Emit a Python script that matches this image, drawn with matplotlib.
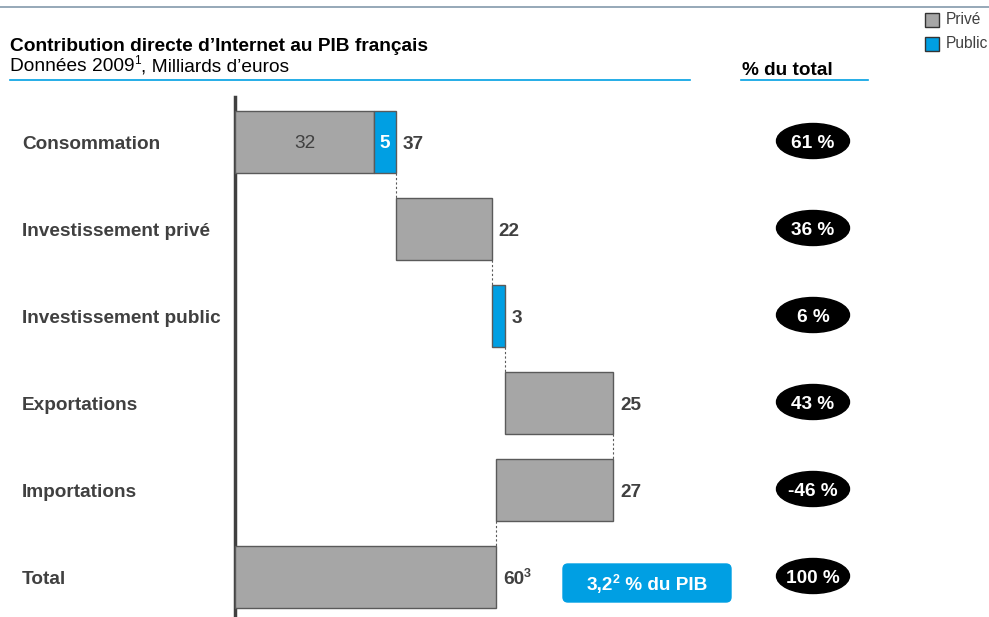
import matplotlib.pyplot as plt
from matplotlib.patches import Ellipse, FancyBboxPatch

plt.rcParams['font.family'] = ['Liberation Sans', 'DejaVu Sans']

# Waterfall data (milliards d'euros, 2009)
categories = ['Consommation', 'Investissement privé', 'Investissement public',
              'Exportations', 'Importations', 'Total']
prive = [32, 22, 0, 25, -27, 60]
public = [5, 0, 3, 0, 0, 0]
value_labels = ['37', '22', '3', '25', '27', '60']
pct_labels = ['61 %', '36 %', '6 %', '43 %', '-46 %', '100 %']

GREY = '#a6a6a6'
EDGE = '#5a5a5a'
BLUE = '#009fe3'
TEXT = '#404040'
FS = 13.7  # main label size (pt)
FS_HEAD = 13.8

W, H = 989, 617
fig = plt.figure(figsize=(W / 100, H / 100), dpi=100)
renderer = fig.canvas.get_renderer()

# pixel-space layer for decorations and text (y grows downwards)
deco = fig.add_axes([0, 0, 1, 1])
deco.set_xlim(0, W)
deco.set_ylim(H, 0)
deco.axis('off')

# bar layer: x in milliards, y in row index
x0_px, px_per_unit = 235, 4.35
row0_px, row_step = 142, 87
ax = fig.add_axes([0, 0, 1, 1], zorder=2)
ax.patch.set_alpha(0)
ax.set_xlim(-x0_px / px_per_unit, (W - x0_px) / px_per_unit)
ax.set_ylim((H - row0_px) / row_step, -row0_px / row_step)
ax.axis('off')


def chain(parts, x, y_base, ha='left', **kw):
    """Write text pieces one after another on a shared baseline.
    parts: (string, fontsize, rise in px)."""
    arts, cx = [], x
    for s, fs, rise in parts:
        t = deco.text(cx, y_base - rise, s, fontsize=fs, ha='left',
                      va='baseline', **kw)
        cx += t.get_window_extent(renderer=renderer).width
        arts.append(t)
    if ha == 'center':
        shift = (cx - x) / 2
        for t in arts:
            px, py = t.get_position()
            t.set_position((px - shift, py))
    return arts


def to_px(x, y):
    dx, dy = ax.transData.transform((x, y))
    return dx, H - dy


bar_h = 62 / row_step
ys = list(range(len(categories)))

# running totals for the waterfall
starts, ends = [], []
level = 0
for i, (p, b) in enumerate(zip(prive, public)):
    if i == len(categories) - 1:
        start, end = 0, p
    else:
        start = level
        end = level + p + b
        level = end
    starts.append(start)
    ends.append(end)

for i, y in enumerate(ys):
    p, b = prive[i], public[i]
    if i == len(categories) - 1:
        ax.barh(y, p, left=0, height=bar_h, color=GREY, edgecolor=EDGE, lw=1)
        continue
    if p > 0:
        ax.barh(y, p, left=starts[i], height=bar_h, color=GREY, edgecolor=EDGE, lw=1)
    elif p < 0:
        ax.barh(y, -p, left=starts[i] + p, height=bar_h, color=GREY, edgecolor=EDGE, lw=1)
    if b > 0:
        ax.barh(y, b, left=starts[i] + max(p, 0), height=bar_h, color=BLUE,
                edgecolor=EDGE, lw=1)

# dashed connectors between consecutive bars
for i in range(len(categories) - 1):
    xc = ends[i]
    ax.plot([xc, xc], [ys[i] + bar_h / 2, ys[i + 1] - bar_h / 2],
            color=EDGE, lw=0.8, ls=(0, (2, 2)))

# segment labels inside the first bar
ax.annotate(str(prive[0]), (prive[0] / 2, 0), xytext=(0, -1),
            textcoords='offset points', ha='center', va='center',
            fontsize=FS, color=TEXT)
ax.annotate(str(public[0]), (prive[0] + public[0] / 2, 0), xytext=(0, -1),
            textcoords='offset points', ha='center', va='center',
            fontsize=FS, color='white', fontweight='bold')

# totals to the right of each bar
for i, y in enumerate(ys):
    right = max(starts[i], ends[i])
    xp, yp = to_px(right, y)
    parts = [(value_labels[i], FS, 0)]
    if i == len(categories) - 1:
        parts.append(('3', 9, 7))
    chain(parts, xp + 7, yp + 7, fontweight='bold', color=TEXT)

# vertical baseline
deco.plot([x0_px, x0_px], [97, H], color='#404040', lw=2.5)

# category labels
for i, name in enumerate(categories):
    deco.text(22, row0_px + i * row_step + 7, name, ha='left', va='baseline',
              fontsize=FS, fontweight='bold', color=TEXT)

# share-of-total ellipses
for i, lab in enumerate(pct_labels):
    yc = row0_px + i * row_step - 1
    deco.add_patch(Ellipse((813, yc), 73, 35, color='black', zorder=3))
    deco.text(813, yc + 7, lab, ha='center', va='baseline', fontsize=FS,
              fontweight='bold', color='white', zorder=4)

# header
deco.plot([0, W], [7, 7], color='#8499ab', lw=1.2)
deco.text(10, 51, 'Contribution directe d\u2019Internet au PIB français',
          ha='left', va='baseline', fontsize=FS_HEAD, fontweight='bold',
          color='black')
chain([('Données 2009', FS_HEAD, 0), ('1', 8.5, 7),
       (', Milliards d\u2019euros', FS_HEAD, 0)], 10, 71, color='black')
deco.plot([10, 690], [80, 80], color=BLUE, lw=1.2)

deco.text(742, 75, '% du total', ha='left', va='baseline', fontsize=FS,
          fontweight='bold', color='black')
deco.plot([741, 868], [80, 80], color=BLUE, lw=1.2)

# legend
for yc, col, lab in [(20, GREY, 'Privé'), (44, BLUE, 'Public')]:
    deco.add_patch(plt.Rectangle((925, yc - 7), 14, 14, facecolor=col,
                                 edgecolor='#333333', lw=1))
    deco.text(946, yc + 4.5, lab, ha='left', va='baseline', fontsize=11.2,
              color=TEXT)

# GDP share box
deco.add_patch(FancyBboxPatch((563, 564), 168, 38,
                              boxstyle='round,pad=0,rounding_size=5',
                              facecolor=BLUE, edgecolor=BLUE, zorder=3))
chain([('3,2', FS, 0), ('2', 9, 7), (' % du PIB', FS, 0)], 647, 590,
      ha='center', fontweight='bold', color='white', zorder=4)

fig.savefig('out.png', dpi=100)
